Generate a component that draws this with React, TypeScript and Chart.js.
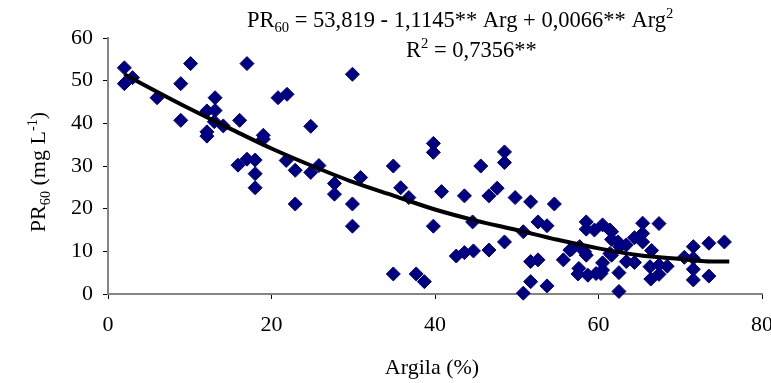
import React, { useEffect, useRef } from "react";
import { Chart, registerables } from "chart.js";

Chart.register(...registerables);

// Observed data: clay content (%) and PR60 (mg L-1)
const argila: number[] = [
  2.0, 3.0, 2.0, 10.1, 17.0, 8.9, 6.0, 13.1, 20.8, 21.9,
  12.1, 13.1, 8.9, 16.1, 13.0, 14.1, 12.1, 12.1, 19.0, 19.0,
  15.9, 17.0, 18.0, 18.0, 18.0, 21.8, 22.9, 22.9, 24.8, 25.8,
  24.8, 29.9, 27.7, 27.7, 30.9, 29.9, 29.9, 34.9, 35.8, 36.8,
  39.8, 39.8, 40.8, 39.8, 34.9, 37.7, 38.7, 43.6, 45.6, 46.6,
  47.6, 48.5, 48.5, 49.8, 51.7, 54.6, 44.6, 50.8, 48.5, 46.6,
  44.7, 43.6, 42.6, 51.7, 51.7, 50.8, 52.6, 52.6, 53.7, 55.7,
  53.7, 58.5, 58.5, 59.5, 60.5, 61.4, 61.6, 61.6, 62.4, 65.4,
  67.4, 65.4, 65.4, 64.4, 63.4, 62.6, 57.7, 56.5, 58.3, 58.5,
  61.4, 61.6, 63.4, 64.4, 66.5, 66.3, 67.4, 68.4, 57.6, 57.5,
  58.7, 59.7, 60.5, 60.5, 62.5, 62.5, 66.4, 67.4, 71.6, 71.6,
  70.5, 73.5, 75.4, 71.6, 71.6, 73.5, 60.3, 56.7,
];
const pr60: number[] = [
  53.0, 50.7, 49.3, 54.0, 54.0, 49.3, 46.0, 46.0, 46.0, 46.8,
  42.9, 43.0, 40.7, 40.7, 40.4, 39.4, 38.0, 37.0, 37.2, 36.3,
  30.2, 31.6, 31.4, 28.2, 24.9, 31.3, 29.0, 21.1, 28.5, 30.1,
  39.3, 51.5, 25.9, 23.4, 27.3, 21.1, 15.9, 30.0, 24.9, 22.6,
  35.3, 33.2, 24.0, 15.9, 4.7, 4.7, 2.9, 23.0, 30.0, 23.0,
  24.8, 33.3, 30.8, 22.6, 21.6, 21.1, 16.9, 14.6, 12.2, 10.3,
  10.1, 9.7, 8.9, 7.6, 2.9, 0.2, 8.0, 16.9, 16.0, 8.0,
  1.9, 16.9, 15.2, 15.0, 16.2, 15.0, 14.6, 12.8, 12.2, 16.6,
  16.5, 14.2, 12.2, 13.2, 11.5, 11.1, 11.1, 10.3, 9.9, 9.1,
  9.5, 9.1, 7.6, 7.4, 10.2, 6.4, 6.8, 6.5, 6.0, 4.7,
  4.4, 4.8, 5.6, 7.3, 5.0, 0.6, 3.5, 4.6, 11.1, 8.4,
  8.6, 11.9, 12.2, 5.8, 3.3, 4.2, 4.8, 10.5,
];

// Fitted curve
const fitX: number[] = [2, 5, 10, 15, 20, 25, 30, 35, 40, 45, 50, 55, 60, 65, 70, 73, 76];
const fitY: number[] = [51.5, 48.4, 43.4, 38.7, 34.1, 30.0, 26.2, 23.0, 19.8, 17.2, 15.0, 12.7, 10.7, 9.1, 8.2, 7.7, 7.6];

const xTicks: number[] = [0, 20, 40, 60, 80];
const yTicks: number[] = [0, 10, 20, 30, 40, 50, 60];

const equationLine1: [string, string][] = [
  ["PR", "n"], ["60", "sub"], [" = 53,819 - 1,1145** Arg + 0,0066** Arg", "n"], ["2", "sup"],
];
const equationLine2: [string, string][] = [["R", "n"], ["2", "sup"], [" = 0,7356**", "n"]];
const yTitle: [string, string][] = [["PR", "n"], ["60", "sub"], [" (mg L", "n"], ["-1", "sup"], [")", "n"]];
const xTitle = "Argila (%)";

const FONT = "'Liberation Serif', 'Times New Roman', serif";

function drawRich(ctx: CanvasRenderingContext2D, parts: [string, string][], x: number, y: number, size: number, align: "left" | "center") {
  const small = size * 0.65;
  let total = 0;
  for (const [t, k] of parts) {
    ctx.font = `${k === "n" ? size : small}px ${FONT}`;
    total += ctx.measureText(t).width;
  }
  let cx = align === "center" ? x - total / 2 : x;
  ctx.textAlign = "left";
  ctx.textBaseline = "alphabetic";
  ctx.fillStyle = "#000";
  for (const [t, k] of parts) {
    ctx.font = `${k === "n" ? size : small}px ${FONT}`;
    const dy = k === "sub" ? size * 0.22 : k === "sup" ? -size * 0.38 : 0;
    ctx.fillText(t, cx, y + dy);
    cx += ctx.measureText(t).width;
  }
}

const textPlugin = {
  id: "customText",
  afterDraw(chart: any) {
    const ctx = chart.ctx as CanvasRenderingContext2D;
    ctx.save();
    drawRich(ctx, equationLine1, 247, 27, 22.5, "left");
    drawRich(ctx, equationLine2, 406, 57, 22.5, "left");
    ctx.restore();

    ctx.save();
    ctx.translate(45, 172);
    ctx.rotate(-Math.PI / 2);
    drawRich(ctx, yTitle, 0, 0, 22, "center");
    ctx.restore();

    ctx.save();
    ctx.font = `22px ${FONT}`;
    ctx.fillStyle = "#000";
    ctx.textAlign = "center";
    ctx.textBaseline = "middle";
    const ca = chart.chartArea;
    ctx.fillText(xTitle, (ca.left + ca.right) / 2 - 3, 368);
    ctx.restore();
  },
};

export default function App() {
  const ref = useRef<HTMLCanvasElement | null>(null);

  useEffect(() => {
    document.body.style.margin = "0";
    const canvas = ref.current;
    if (!canvas) return;
    const chart = new Chart(canvas, {
      type: "scatter",
      data: {
        datasets: [
          {
            type: "line",
            data: fitX.map((x, i) => ({ x, y: fitY[i] })),
            borderColor: "#000",
            borderWidth: 4,
            pointRadius: 0,
            showLine: true,
            fill: false,
            cubicInterpolationMode: "monotone",
            clip: false,
          } as any,
          {
            data: argila.map((x, i) => ({ x, y: pr60[i] })),
            pointStyle: "rectRot",
            pointRadius: 7,
            backgroundColor: "#000080",
            borderColor: "#000080",
            borderWidth: 1,
            clip: false,
          } as any,
        ],
      },
      options: {
        animation: false,
        responsive: false,
        events: [],
        layout: { padding: { top: 38, right: 9, left: 0, bottom: 0 } },
        plugins: { legend: { display: false }, tooltip: { enabled: false } },
        scales: {
          x: {
            type: "linear",
            min: 0,
            max: 80,
            afterFit: (s: any) => { s.height = 89; s.paddingLeft = 0; s.paddingRight = 0; },
            afterBuildTicks: (s: any) => { s.ticks = xTicks.map((v) => ({ value: v })); },
            ticks: { font: { family: FONT, size: 22 }, color: "#000", padding: 13, maxRotation: 0 },
            grid: { display: true, drawOnChartArea: false, drawTicks: true, tickLength: 5, color: "#000", lineWidth: 1 },
            border: { display: true, color: "#858585", width: 2 },
          },
          y: {
            type: "linear",
            min: 0,
            max: 60,
            afterFit: (s: any) => { s.width = 108; s.paddingTop = 0; s.paddingBottom = 0; },
            afterBuildTicks: (s: any) => { s.ticks = yTicks.map((v) => ({ value: v })); },
            ticks: { font: { family: FONT, size: 22 }, color: "#000", padding: 10 },
            grid: { display: true, drawOnChartArea: false, drawTicks: true, tickLength: 5, color: "#000", lineWidth: 1 },
            border: { display: true, color: "#858585", width: 2 },
          },
        },
      } as any,
      plugins: [textPlugin],
    });
    return () => chart.destroy();
  }, []);

  return (
    <div style={{ width: 771, height: 383, background: "#fff" }}>
      <canvas ref={ref} width={771} height={383} style={{ display: "block" }} />
    </div>
  );
}
